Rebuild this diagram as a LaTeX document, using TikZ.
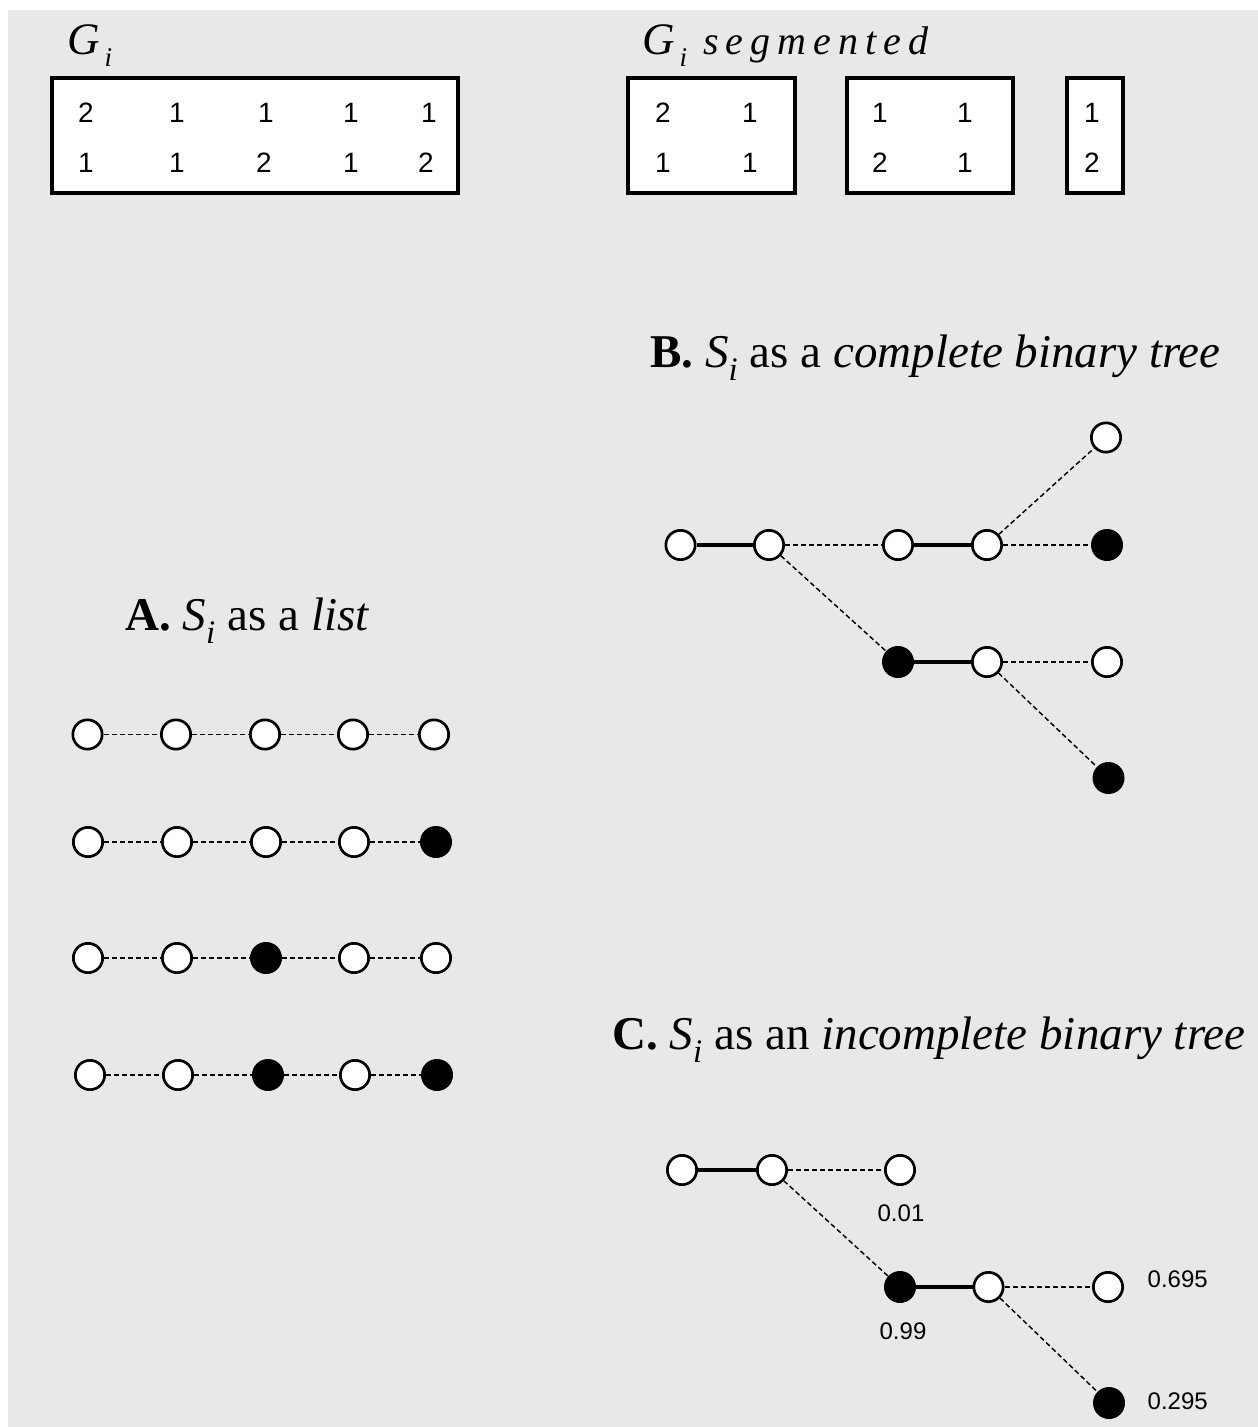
\documentclass[tikz,border=0pt]{standalone}
\usepackage{fontspec}
\setmainfont{Liberation Serif}
\newfontfamily\helv{Liberation Sans}
\definecolor{bgc}{HTML}{E8E8E8}
\newcommand{\gsub}{\raisebox{-12pt}{\fontsize{27}{30}\selectfont\itshape i}}
\begin{document}
\begin{tikzpicture}[x=1pt,y=-1pt,
 wn/.style={circle, draw=black, line width=2.7pt, fill=white, minimum size=29.3pt, inner sep=0pt},
 bn/.style={circle, draw=black, line width=2.7pt, fill=black, minimum size=29.3pt, inner sep=0pt},
 thk/.style={line width=4.2pt},
 dl/.style={line width=1.45pt, dash pattern=on 5pt off 3pt, black},
 gbox/.style={draw, line width=4pt, fill=white, inner sep=0pt},
 num/.style={font=\helv\fontsize{28}{30}\selectfont, inner sep=0pt},
 lab/.style={font=\helv\fontsize{24}{26}\selectfont, inner sep=0pt},
 ttl/.style={font=\fontsize{47}{50}\selectfont, inner sep=0pt, anchor=base west},
 glab/.style={font=\fontsize{45}{48}\selectfont, inner sep=0pt, anchor=base west}]
\useasboundingbox (0,0) rectangle (1258,1427);
\fill[bgc] (8,10) rectangle (1258,1427);

% ---- G_i ----
\node[glab] (gA) at (67,54) {\itshape G\kern5pt\gsub};
\node[gbox, minimum width=406, minimum height=115] (boxA) at (255,135.5) {};
\node[num] (n11) at (86,113) {2};
\node[num] (n12) at (177,113) {1};
\node[num] (n13) at (266,113) {1};
\node[num] (n14) at (351,113) {1};
\node[num] (n15) at (429,113) {1};
\node[num] (n21) at (86,162.5) {1};
\node[num] (n22) at (177,162.5) {1};
\node[num] (n23) at (264,162.5) {2};
\node[num] (n24) at (351,162.5) {1};
\node[num] (n25) at (426,162.5) {2};

% ---- G_i segmented ----
\node[glab] (gB) at (642,54) {\itshape G\kern5pt\gsub\hspace{16pt}{\fontsize{40}{44}\selectfont s\hspace{7pt}e\hspace{7pt}g\hspace{7pt}m\hspace{7pt}e\hspace{7pt}n\hspace{7pt}t\hspace{7pt}e\hspace{7pt}d}};
\node[gbox, minimum width=167, minimum height=115] (s1) at (711.5,135.5) {};
\node[gbox, minimum width=166, minimum height=115] (s2) at (930,135.5) {};
\node[gbox, minimum width=56, minimum height=115] (s3) at (1095,135.5) {};
\node[num] (m11) at (663,113) {2};
\node[num] (m12) at (750,113) {1};
\node[num] (m21) at (663,162.5) {1};
\node[num] (m22) at (750,162.5) {1};
\node[num] (m13) at (880,113) {1};
\node[num] (m14) at (965,113) {1};
\node[num] (m23) at (880,162.5) {2};
\node[num] (m24) at (965,162.5) {1};
\node[num] (m15) at (1092,113) {1};
\node[num] (m25) at (1092,162.5) {2};

% ---- titles ----
\node[ttl] (tA) at (125,630) {\textbf{A.} \textit{S}\textsubscript{\textit{i}} as a \textit{list}};
\node[ttl] (tB) at (650,367) {\textbf{B.} \textit{S}\textsubscript{\textit{i}} as a \textit{complete binary tree}};
\node[ttl] (tC) at (612,1049) {\textbf{C.} \textit{S}\textsubscript{\textit{i}} as an \textit{incomplete binary tree}};

% ---- A: list ----
\node[wn] (a11) at (87.5,734.5) {};
\node[wn] (a12) at (176,734.5) {};
\node[wn] (a13) at (265,734.5) {};
\node[wn] (a14) at (353,734.5) {};
\node[wn] (a15) at (434,734.5) {};
\node[wn] (a21) at (88,842) {};
\node[wn] (a22) at (177,842) {};
\node[wn] (a23) at (266,842) {};
\node[wn] (a24) at (354,842) {};
\node[bn] (a25) at (436,842) {};
\node[wn] (a31) at (88,958) {};
\node[wn] (a32) at (177,958) {};
\node[bn] (a33) at (266,958) {};
\node[wn] (a34) at (354,958) {};
\node[wn] (a35) at (436,958) {};
\node[wn] (a41) at (90,1075) {};
\node[wn] (a42) at (178,1075) {};
\node[bn] (a43) at (268,1075) {};
\node[wn] (a44) at (355,1075) {};
\node[bn] (a45) at (437,1075) {};
\foreach \r in {1,2,3,4}{
  \foreach \c [evaluate=\c as \n using int(\c+1)] in {1,2,3,4}{
    \draw[dl] (a\r\c) -- (a\r\n);
  }
}

% ---- B: complete binary tree ----
\node[wn] (b1) at (680.5,545) {};
\node[wn] (b2) at (769,545) {};
\node[wn] (b3) at (898,545) {};
\node[wn] (b4) at (987,545) {};
\node[bn] (b5) at (1107,545) {};
\node[wn] (bt) at (1106,437.5) {};
\node[bn] (b6) at (898,662) {};
\node[wn] (b7) at (987,662) {};
\node[wn] (b8) at (1107,662) {};
\node[bn] (b9) at (1108.5,778) {};
\draw[thk] (b1) -- (b2);
\draw[dl] (b2) -- (b3);
\draw[thk] (b3) -- (b4);
\draw[dl] (b4) -- (b5);
\draw[dl] (b4) -- (bt);
\draw[dl] (b2) -- (b6);
\draw[thk] (b6) -- (b7);
\draw[dl] (b7) -- (b8);
\draw[dl] (b7) -- (b9);

% ---- C: incomplete binary tree ----
\node[wn] (c1) at (682,1170) {};
\node[wn] (c2) at (772,1170) {};
\node[wn] (c3) at (900,1170) {};
\node[bn] (c4) at (900,1287) {};
\node[wn] (c5) at (988.5,1287) {};
\node[wn] (c6) at (1108,1287) {};
\node[bn] (c7) at (1109,1403) {};
\draw[thk] (c1) -- (c2);
\draw[dl] (c2) -- (c3);
\draw[dl] (c2) -- (c4);
\draw[thk] (c4) -- (c5);
\draw[dl] (c5) -- (c6);
\draw[dl] (c5) -- (c7);
\node[lab] (l1) at (901,1213.5) {0.01};
\node[lab] (l2) at (903,1331.5) {0.99};
\node[lab, anchor=west] (l3) at (1147.5,1279.5) {0.695};
\node[lab, anchor=west] (l4) at (1147.5,1401.5) {0.295};
\end{tikzpicture}
\end{document}
